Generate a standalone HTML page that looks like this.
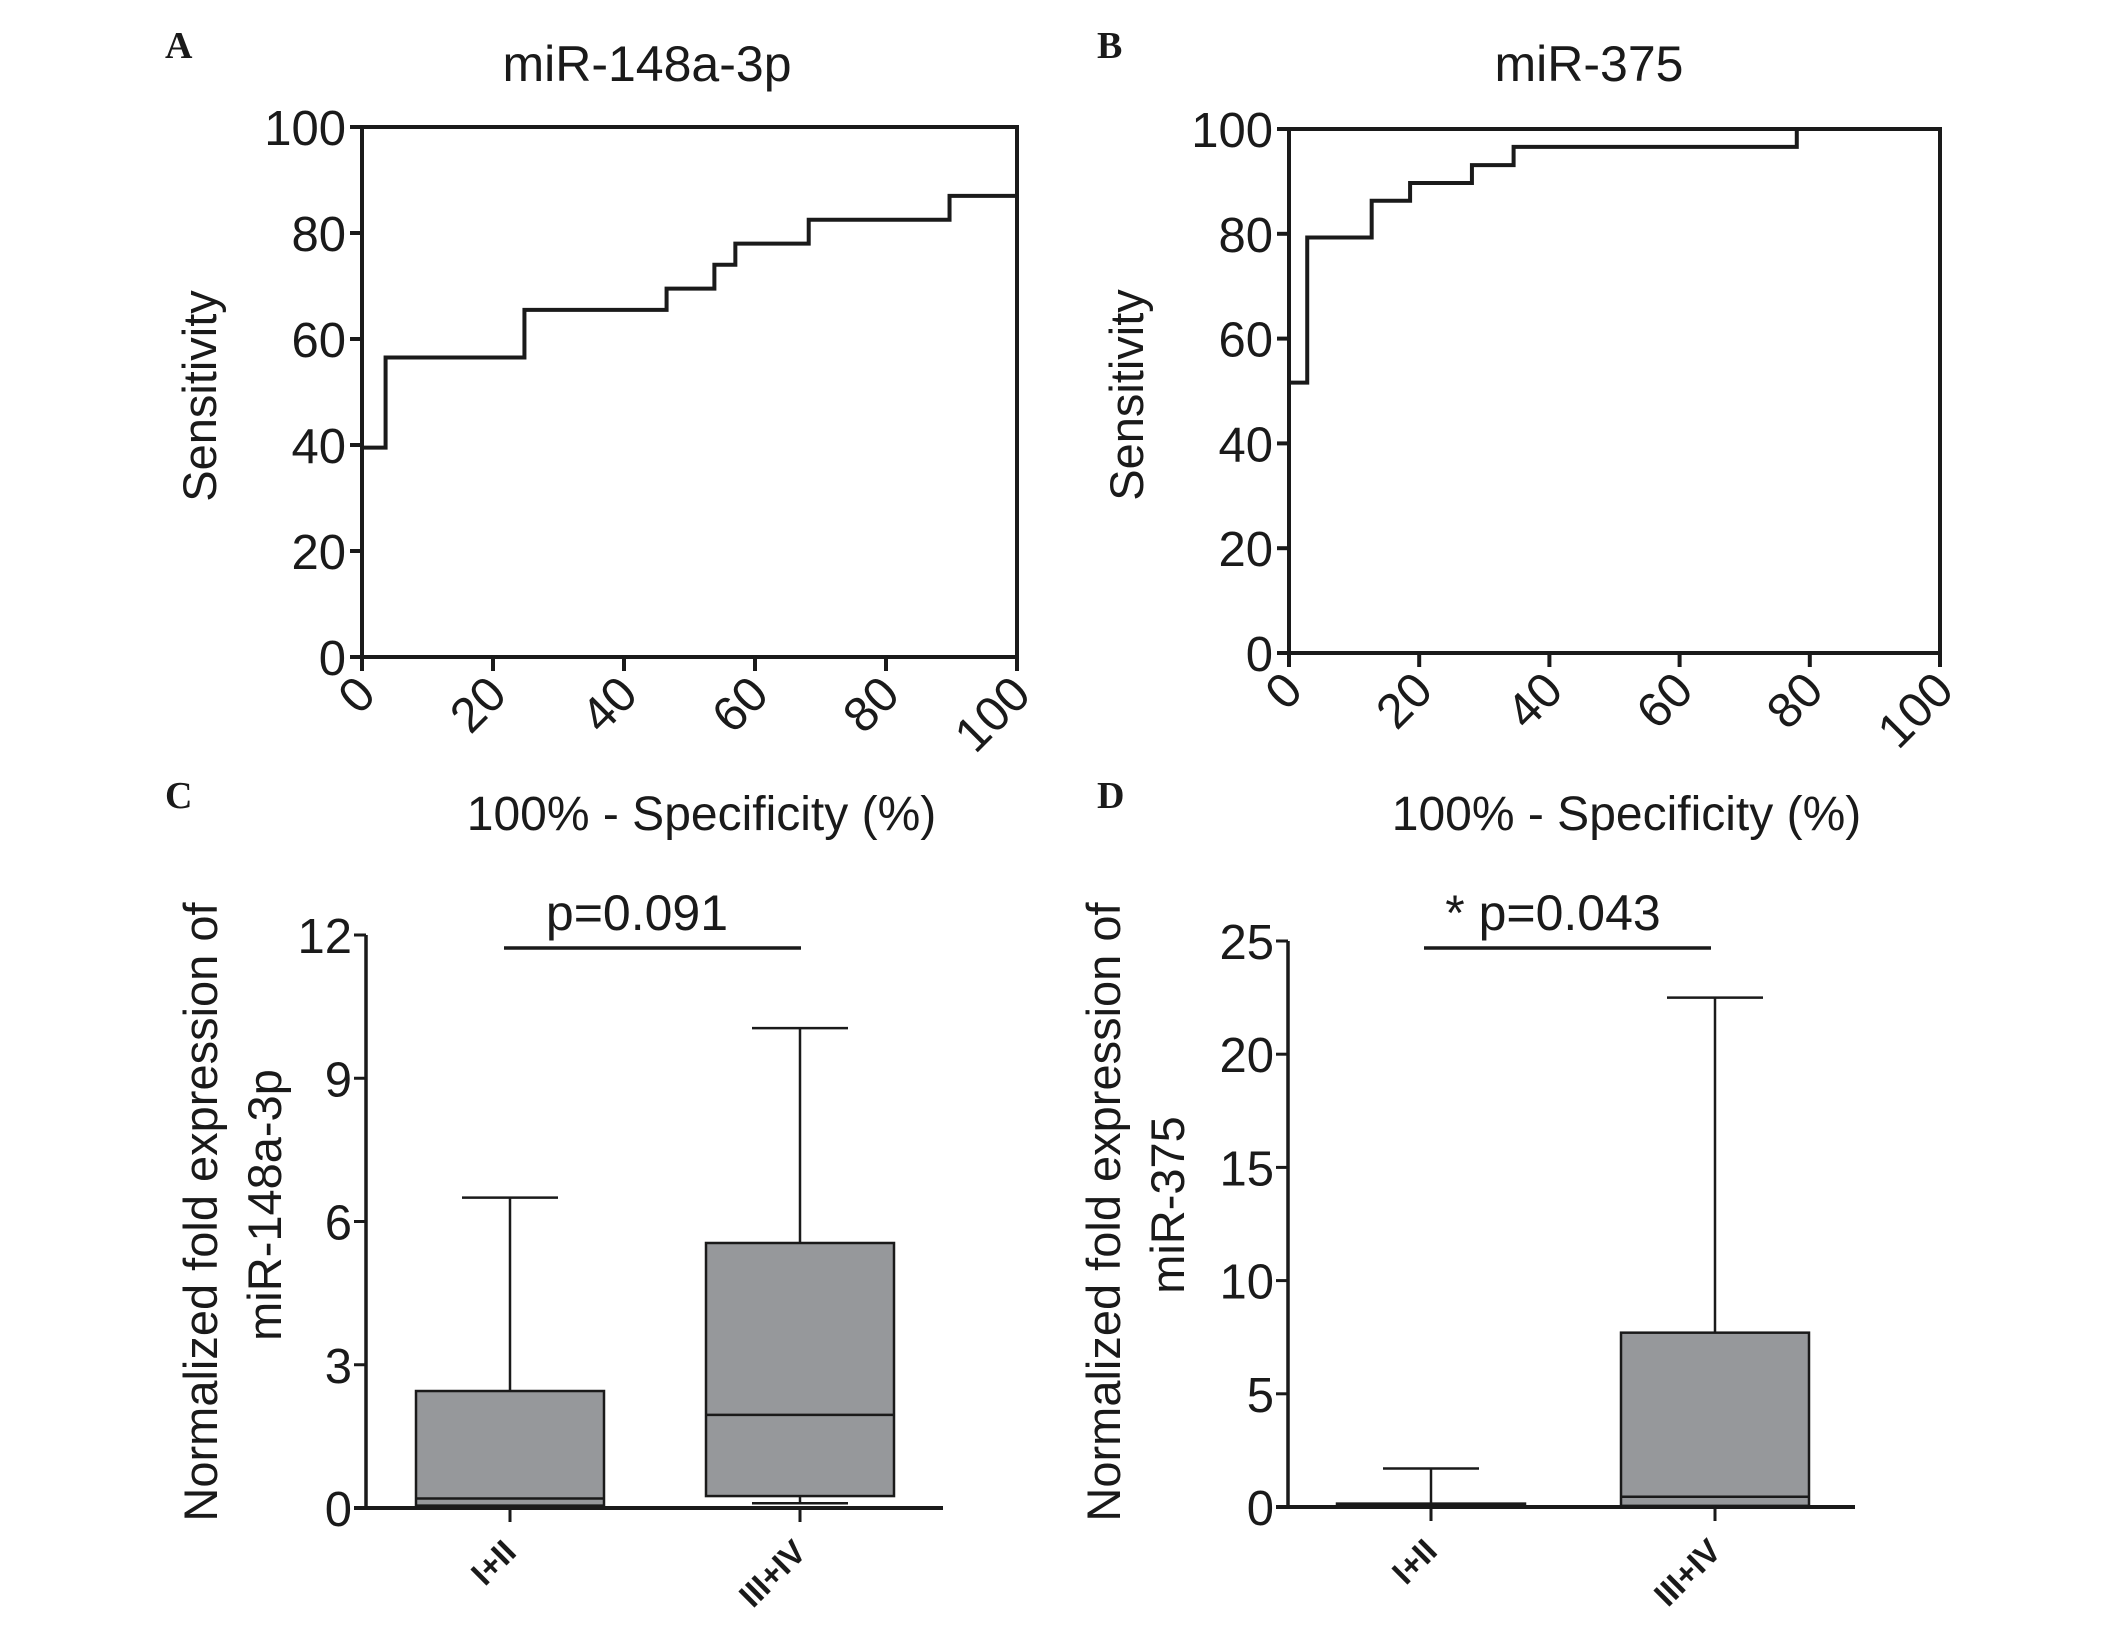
<!DOCTYPE html>
<html><head><meta charset="utf-8"><style>
html,body{margin:0;padding:0;background:#fff;}
svg{display:block;}
text{font-family:"Liberation Sans",Arial,sans-serif;fill:#1a1a1a;}
.pl{font-family:"Liberation Serif",serif;font-weight:bold;font-size:38px;}
</style></head><body>
<svg id="fig" width="2126" height="1625" viewBox="0 0 2126 1625" xmlns="http://www.w3.org/2000/svg">
<text class="pl" x="165" y="58">A</text>
<text class="pl" x="1097" y="58">B</text>
<text class="pl" x="165" y="808">C</text>
<text class="pl" x="1097" y="808">D</text>
</svg>
<script>
// ROC data
const rocA_x = [0, 3.6, 3.6, 24.8, 24.8, 46.5, 46.5, 53.8, 53.8, 57, 57, 68.2, 68.2, 89.7, 89.7, 100, 100];
const rocA_y = [39.5, 39.5, 56.5, 56.5, 65.5, 65.5, 69.5, 69.5, 74, 74, 78, 78, 82.5, 82.5, 87, 87, 100];
const rocB_x = [0, 2.8, 2.8, 12.7, 12.7, 18.6, 18.6, 28.1, 28.1, 34.5, 34.5, 78, 78, 100];
const rocB_y = [51.6, 51.6, 79.3, 79.3, 86.3, 86.3, 89.7, 89.7, 93.1, 93.1, 96.6, 96.6, 100, 100];
const rocTicks = [0, 20, 40, 60, 80, 100];
// Box plot data: [min, q1, median, q3, max]
const groups = ["I+II", "III+IV"];
const boxC = [[0, 0.05, 0.2, 2.45, 6.5], [0.1, 0.25, 1.95, 5.55, 10.05]];
const boxD = [[0, 0.05, 0.1, 0.15, 1.7], [0, 0.05, 0.45, 7.7, 22.5]];
const ticksC = [0, 3, 6, 9, 12];
const ticksD = [0, 5, 10, 15, 20, 25];

const svg = document.getElementById('fig');
const NS = 'http://www.w3.org/2000/svg';
function mk(tag, attrs, txt) {
  const e = document.createElementNS(NS, tag);
  for (const k in attrs) e.setAttribute(k, attrs[k]);
  if (txt !== undefined) e.textContent = txt;
  svg.appendChild(e);
  return e;
}

function roc(px0, px1, py100, py0, xs, ys, title, tcx, key) {
  const X = v => px0 + (px1 - px0) * v / 100;
  const Y = v => py0 - (py0 - py100) * v / 100;
  let t = mk('text', {x: tcx, y: 81, 'font-size': 50, 'text-anchor': 'middle'}, title);
  
  
  let f = mk('path', {d: `M${X(0)},${Y(0)} L${X(0)},${Y(100)} L${X(100)},${Y(100)} L${X(100)},${Y(0)} Z`, fill: 'none', stroke: '#1a1a1a', 'stroke-width': 4});
  
  
  rocTicks.forEach(v => {
    let a = mk('line', {x1: X(0) - 12, x2: X(0), y1: Y(v), y2: Y(v), stroke: '#1a1a1a', 'stroke-width': 4});
    
    
    let l = mk('text', {x: X(0) - 16, y: Y(v) + 18, 'font-size': 49, 'text-anchor': 'end'}, v);
    
    
    let b = mk('line', {x1: X(v), x2: X(v), y1: Y(0), y2: Y(0) + 14, stroke: '#1a1a1a', 'stroke-width': 4});
    
    
    let xl = mk('text', {x: 0, y: 0, 'font-size': 49, 'text-anchor': 'end', transform: `translate(${X(v) + 16},${Y(0) + 40}) rotate(-45)`}, v);
    
    
  });
  let d = xs.map((v, i) => (i ? 'L' : 'M') + X(v) + ',' + Y(ys[i])).join(' ');
  let p = mk('path', {d: d, fill: 'none', stroke: '#1a1a1a', 'stroke-width': 4});
  
  
  let yt = mk('text', {x: 0, y: 0, 'font-size': 47, 'text-anchor': 'middle', transform: `translate(${X(0) - 146},${(Y(0) + Y(100)) / 2 + 4}) rotate(-90)`}, 'Sensitivity');
  
  
  let xt = mk('text', {x: (X(0) + X(100)) / 2 + 12, y: 830, 'font-size': 48, 'text-anchor': 'middle'}, '100% - Specificity (%)');
  
  
}
roc(362, 1017, 127, 657, rocA_x, rocA_y, 'miR-148a-3p', 647, 'roc-a');
roc(1289, 1940, 129, 653, rocB_x, rocB_y, 'miR-375', 1589, 'roc-b');

function boxplot(ax, axEnd, py0, pyTop, vmax, ticks, data, centers, halfW, capW, sigX1, sigX2, sigLabel, sigCx, ylab2, labCx, key) {
  const Y = v => py0 - (py0 - pyTop) * v / vmax;
  data.forEach((b, i) => {
    const c = centers[i];
    let r = mk('rect', {x: c - halfW, y: Y(b[3]), width: 2 * halfW, height: Y(b[1]) - Y(b[3]), fill: '#96989b', stroke: '#1a1a1a', 'stroke-width': 2.5});
    
    
    let m = mk('line', {x1: c - halfW, x2: c + halfW, y1: Y(b[2]), y2: Y(b[2]), stroke: '#1a1a1a', 'stroke-width': 2.5});
    
    
    let w1 = mk('line', {x1: c, x2: c, y1: Y(b[3]), y2: Y(b[4]), stroke: '#1a1a1a', 'stroke-width': 2.5});
    
    
    let c1 = mk('line', {x1: c - capW, x2: c + capW, y1: Y(b[4]), y2: Y(b[4]), stroke: '#1a1a1a', 'stroke-width': 2.5});
    
    
    let w2 = mk('line', {x1: c, x2: c, y1: Y(b[1]), y2: Y(b[0]), stroke: '#1a1a1a', 'stroke-width': 2.5});
    
    
    let c2 = mk('line', {x1: c - capW, x2: c + capW, y1: Y(b[0]), y2: Y(b[0]), stroke: '#1a1a1a', 'stroke-width': 2.5});
    
    
    let tk = mk('line', {x1: c, x2: c, y1: py0, y2: py0 + 14, stroke: '#1a1a1a', 'stroke-width': 3});
    
    
    let gl = mk('text', {x: 0, y: 0, 'font-size': 33, 'font-weight': 'bold', 'text-anchor': 'end', transform: `translate(${c + 8},${py0 + 46}) rotate(-45)`}, groups[i]);
    
    
  });
  let ya = mk('line', {x1: ax, x2: ax, y1: pyTop, y2: py0, stroke: '#1a1a1a', 'stroke-width': 3.5});
  
  
  let xa = mk('line', {x1: ax - 12, x2: axEnd, y1: py0, y2: py0, stroke: '#1a1a1a', 'stroke-width': 4});
  
  
  ticks.forEach(v => {
    let t = mk('line', {x1: ax - 12, x2: ax, y1: Y(v), y2: Y(v), stroke: '#1a1a1a', 'stroke-width': 3});
    
    
    let l = mk('text', {x: ax - 14, y: Y(v) + 18, 'font-size': 49, 'text-anchor': 'end'}, v);
    
    
  });
  let sl = mk('line', {x1: sigX1, x2: sigX2, y1: 948, y2: 948, stroke: '#1a1a1a', 'stroke-width': 3.5});
  
  
  let st = mk('text', {x: sigCx, y: 930, 'font-size': 50, 'text-anchor': 'middle'}, sigLabel);
  
  
  let y1 = mk('text', {x: 0, y: 0, 'font-size': 47, 'text-anchor': 'middle', transform: `translate(${labCx},1212) rotate(-90)`}, 'Normalized fold expression of');
  
  
  let y2 = mk('text', {x: 0, y: 0, 'font-size': 47, 'text-anchor': 'middle', transform: `translate(${labCx + 64},1205) rotate(-90)`}, ylab2);
  
  
}
boxplot(366, 943, 1508, 935, 12, ticksC, boxC, [510, 800], 94, 48, 504, 801, 'p=0.091', 637, 'miR-148a-3p', 217, 'box-c');
boxplot(1288, 1855, 1507, 941, 25, ticksD, boxD, [1431, 1715], 94, 48, 1424, 1711, '* p=0.043', 1553, 'miR-375', 1120, 'box-d');
</script>
</body></html>
